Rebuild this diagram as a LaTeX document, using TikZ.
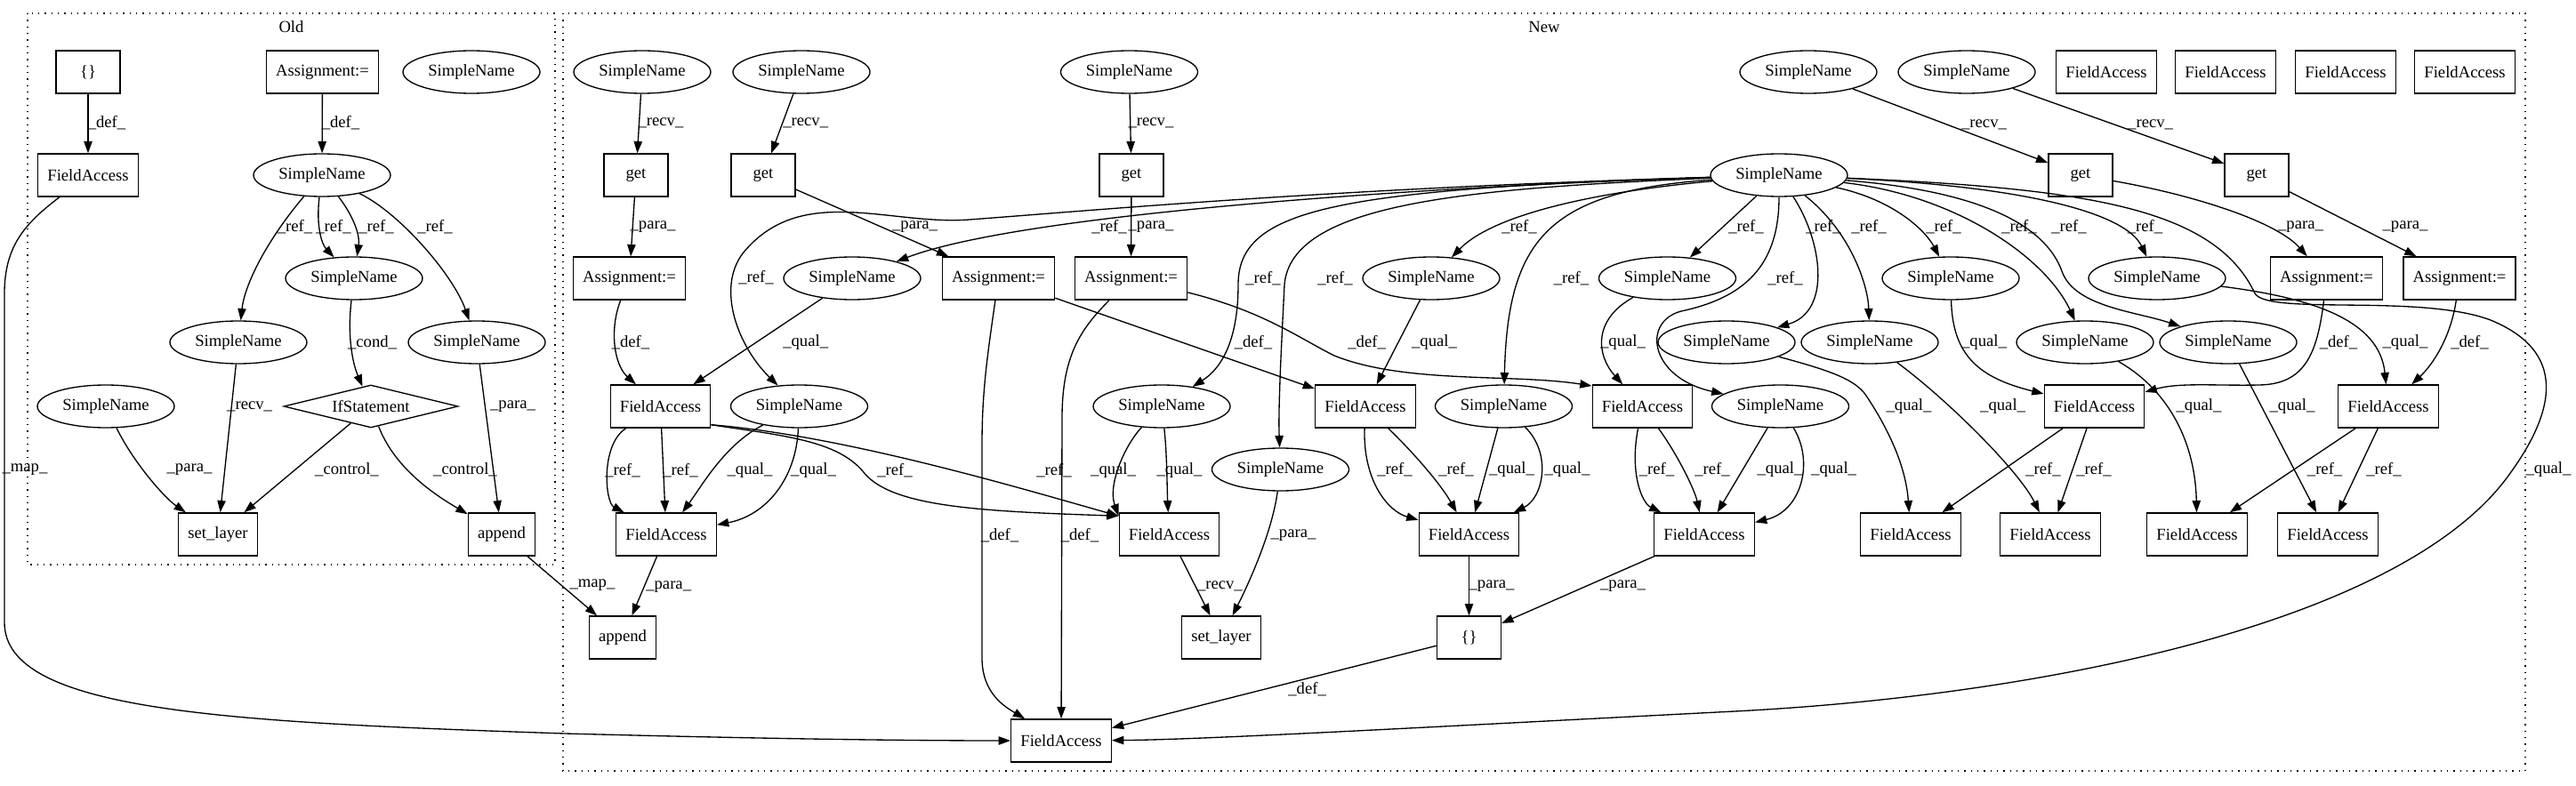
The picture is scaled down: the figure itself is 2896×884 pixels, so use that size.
\documentclass[tikz,border=0pt]{standalone}
\usepackage{fontspec}
\setmainfont{Liberation Serif}
\usetikzlibrary{shapes.geometric,arrows.meta}
\begin{document}
\begin{tikzpicture}[x=0.75pt,y=-0.75pt,
 every node/.style={font=\fontsize{14pt}{16pt}\selectfont},
 bx/.style={draw,rectangle,line width=1pt,minimum height=36pt,minimum width=54pt,inner xsep=8pt,inner ysep=0pt},
 ell/.style={draw,ellipse,line width=1pt,minimum width=115.5pt,minimum height=36pt,inner sep=0pt},
 dia/.style={draw,diamond,aspect=4,line width=1pt,minimum width=147pt,minimum height=36pt,inner sep=0pt},
 edg/.style={draw,line width=1pt,-{Triangle[length=10pt,width=7pt]}},
 lbl/.style={inner sep=0pt},
 clu/.style={draw,line width=1pt,dash pattern=on 1pt off 4.5pt}]
\useasboundingbox[fill=white] (0,0) rectangle (2896,884);
% clusters
\draw[clu] (31,15) rectangle (624,635);
\draw[clu] (633,15) rectangle (2839,867);
\node (oldlbl) at (327.5,30) {Old};
\node (newlbl) at (1736,30) {New};
% Old nodes
\node[bx] (oB) at (99,81) {\{\}};
\node[bx] (oA) at (362.5,81) {Assignment:=};
\node[ell] (oSi) at (530,81) {SimpleName};
\node[bx] (oFA) at (99,197) {FieldAccess};
\node[ell] (oS1) at (362,197) {SimpleName};
\node[ell] (oS2) at (398,313) {SimpleName};
\node[ell] (oS3) at (268,385) {SimpleName};
\node[ell] (oS4) at (536,385) {SimpleName};
\node[ell] (oS5) at (119,457) {SimpleName};
\node[dia] (oIf) at (417,457) {IfStatement};
\node[bx] (oSL) at (245,601) {set\_layer};
\node[bx] (oAp) at (564,601) {append};
% New nodes
\node[ell] (nSa) at (722,81) {SimpleName};
\node[ell] (nSb) at (901,81) {SimpleName};
\node[ell] (nSc) at (1269.5,81) {SimpleName};
\node[ell] (nSq) at (2033,81) {SimpleName};
\node[ell] (nSr) at (2211,81) {SimpleName};
\node[bx] (fX1) at (2368,81) {FieldAccess};
\node[bx] (fX2) at (2502,81) {FieldAccess};
\node[bx] (fX3) at (2637,81) {FieldAccess};
\node[bx] (fX4) at (2771,81) {FieldAccess};
\node[bx] (gA) at (715,197) {get};
\node[bx] (gB) at (858,197) {get};
\node[bx] (gC) at (1272,197) {get};
\node[ell] (hub) at (2000,197) {SimpleName};
\node[bx] (gD) at (2339,197) {get};
\node[bx] (gE) at (2537,197) {get};
\node[bx] (aA) at (707.5,313) {Assignment:=};
\node[ell] (nSd) at (958,313) {SimpleName};
\node[bx] (aB) at (1122.5,313) {Assignment:=};
\node[bx] (aC) at (1271.5,313) {Assignment:=};
\node[ell] (nSg) at (1609,313) {SimpleName};
\node[ell] (nSh) at (1874.5,313) {SimpleName};
\node[ell] (nSl) at (2193,313) {SimpleName};
\node[ell] (nSm) at (2425,313) {SimpleName};
\node[bx] (aD) at (2615.5,313) {Assignment:=};
\node[bx] (aE) at (2765,313) {Assignment:=};
\node[ell] (nSi) at (1941,385) {SimpleName};
\node[ell] (nSn) at (2102,385) {SimpleName};
\node[ell] (nSo) at (2344,385) {SimpleName};
\node[ell] (nSp) at (2505,385) {SimpleName};
\node[bx] (fA) at (742.5,457) {FieldAccess};
\node[ell] (nSe) at (898.5,457) {SimpleName};
\node[ell] (nSf) at (1306,457) {SimpleName};
\node[bx] (fD) at (1535,457) {FieldAccess};
\node[ell] (nSj) at (1690.5,457) {SimpleName};
\node[bx] (fE) at (1846.5,457) {FieldAccess};
\node[ell] (nSk) at (2001.5,457) {SimpleName};
\node[bx] (fF) at (2354.5,457) {FieldAccess};
\node[bx] (fG) at (2685,457) {FieldAccess};
\node[ell] (nSs) at (1439.5,528) {SimpleName};
\node[bx] (fB) at (749,601) {FieldAccess};
\node[bx] (fC) at (1314.5,601) {FieldAccess};
\node[bx] (fH) at (1651.5,601) {FieldAccess};
\node[bx] (fI) at (1916,601) {FieldAccess};
\node[bx] (fB1) at (2148,601) {FieldAccess};
\node[bx] (fB2) at (2305,601) {FieldAccess};
\node[bx] (fB3) at (2470,601) {FieldAccess};
\node[bx] (fB4) at (2617,601) {FieldAccess};
\node[bx] (nAp) at (700,717) {append};
\node[bx] (nSL) at (1373,717) {set\_layer};
\node[bx] (nBr) at (1651.5,717) {\{\}};
\node[bx] (fT) at (1193,833) {FieldAccess};
% Old edges
\draw[edg] (oB) -- (oFA);
\draw[edg] (oA) -- (oS1);
\draw[edg] (oS1) .. controls (300,270) and (275,320) .. (oS3);
\draw[edg] (oS1) .. controls (355,255) and (362,275) .. (oS2);
\draw[edg] (oS1) .. controls (395,240) and (405,262) .. (oS2);
\draw[edg] (oS1) .. controls (450,240) and (510,310) .. (oS4);
\draw[edg] (oS2) .. controls (390,380) and (397,410) .. (oIf);
\draw[edg] (oS3) -- (oSL);
\draw[edg] (oS5) .. controls (150,520) and (185,560) .. (oSL);
\draw[edg] (oIf) -- (oSL);
\draw[edg] (oIf) .. controls (445,530) and (495,560) .. (oAp);
\draw[edg] (oS4) -- (oAp);
\draw[edg] (oAp) -- (nAp);
\draw[edg] (oFA) .. controls (30,250) and (5,275) .. (5,330) -- (5,700) .. controls (5,800) and (250,812) .. (635,825) .. controls (900,832) and (1050,833) .. (fT);
% New edges
\draw[edg] (nSa) -- (gA);
\draw[edg] (gA) -- (aA);
\draw[edg] (nSb) -- (gB);
\draw[edg] (gB) -- (aB);
\draw[edg] (nSc) -- (gC);
\draw[edg] (gC) -- (aC);
\draw[edg] (aA) .. controls (685,370) and (690,410) .. (fA);
\draw[edg] (nSd) -- (fA);
\draw[edg] (hub) .. controls (1600,210) and (1150,240) .. (nSd);
\draw[edg] (hub) .. controls (1500,212) and (1250,235) .. (1090,247) .. controls (1000,254) and (900,205) .. (835,285) .. controls (805,325) and (830,390) .. (nSe);
\draw[edg] (fA) .. controls (675,500) and (680,565) .. (fB);
\draw[edg] (fA) -- (fB);
\draw[edg] (nSe) .. controls (815,500) and (790,545) .. (fB);
\draw[edg] (nSe) .. controls (895,540) and (860,580) .. (fB);
\draw[edg] (fA.-20) .. controls (880,490) and (940,495) .. (970,530) .. controls (1000,570) and (1100,575) .. (fC.160);
\draw[edg] (fA.-20) .. controls (950,490) and (1150,550) .. (fC.160);
\draw[edg] (aB) .. controls (1110,400) and (1104,440) .. (1104,500) -- (1104,740) .. controls (1104,780) and (1130,795) .. (fT);
\draw[edg] (aC) .. controls (1215,370) and (1194,400) .. (1194,470) -- (fT);
\draw[edg] (aB) -- (fD);
\draw[edg] (aC) .. controls (1420,350) and (1460,380) .. (1500,400) .. controls (1580,432) and (1700,420) .. (fE.158);
\draw[edg] (nSg) -- (fD);
\draw[edg] (nSh) .. controls (1790,360) and (1795,400) .. (fE);
\draw[edg] (hub) .. controls (1800,215) and (1680,240) .. (nSg);
\draw[edg] (hub) .. controls (1740,215) and (1695,270) .. (nSj);
\draw[edg] (hub) -- (nSh);
\draw[edg] (hub) .. controls (2000,300) and (1960,335) .. (1890,350) .. controls (1845,362) and (1855,425) .. (nSk);
\draw[edg] (hub) .. controls (2048,270) and (2060,350) .. (nSi);
\draw[edg] (hub) .. controls (2080,260) and (2100,320) .. (nSn);
\draw[edg] (hub) .. controls (2130,225) and (2165,260) .. (nSl);
\draw[edg] (hub) .. controls (2200,220) and (2300,290) .. (nSo);
\draw[edg] (hub) .. controls (2230,215) and (2300,255) .. (2318,305) .. controls (2332,345) and (2400,350) .. (nSp);
\draw[edg] (hub) .. controls (2280,210) and (2390,240) .. (nSm);
\draw[edg] (hub) .. controls (2350,212) and (2490,235) .. (2535,330) .. controls (2550,355) and (2720,330) .. (2800,360) .. controls (2885,395) and (2875,460) .. (2820,535) .. controls (2700,700) and (2300,782) .. (1950,800) .. controls (1600,818) and (1350,832) .. (fT);
\draw[edg] (hub) .. controls (1500,213) and (1392,235) .. (1392,320) .. controls (1392,385) and (1372,415) .. (nSf);
\draw[edg] (hub) .. controls (1650,212) and (1452,228) .. (1444,320) .. controls (1440,400) and (1437,460) .. (nSs);
\draw[edg] (nSf) .. controls (1265,500) and (1245,545) .. (fC.160);
\draw[edg] (nSf) .. controls (1312,510) and (1312,550) .. (fC);
\draw[edg] (fD) .. controls (1532,540) and (1560,575) .. (fH);
\draw[edg] (fD) .. controls (1590,510) and (1620,545) .. (fH);
\draw[edg] (nSj) -- (fH);
\draw[edg] (nSj) .. controls (1745,510) and (1735,560) .. (fH);
\draw[edg] (fE) .. controls (1832,530) and (1845,565) .. (fI);
\draw[edg] (fE) .. controls (1885,510) and (1905,550) .. (fI);
\draw[edg] (nSk) -- (fI);
\draw[edg] (nSk) .. controls (2040,520) and (2025,575) .. (fI);
\draw[edg] (nSs) .. controls (1430,600) and (1402,660) .. (nSL);
\draw[edg] (fC) -- (nSL);
\draw[edg] (fB) -- (nAp);
\draw[edg] (fH) -- (nBr);
\draw[edg] (fI) -- (nBr);
\draw[edg] (nBr) -- (fT);
\draw[edg] (nSq) -- (gD);
\draw[edg] (nSr) -- (gE);
\draw[edg] (gD) .. controls (2470,220) and (2560,250) .. (aD);
\draw[edg] (gE) -- (aE);
\draw[edg] (aD) .. controls (2605,400) and (2590,432) .. (2540,433) .. controls (2490,434) and (2450,430) .. (fF);
\draw[edg] (aE) .. controls (2755,380) and (2735,410) .. (fG);
\draw[edg] (nSm) .. controls (2600,335) and (2675,360) .. (fG);
\draw[edg] (nSl) .. controls (2195,400) and (2225,425) .. (fF);
\draw[edg] (nSi) .. controls (2050,415) and (2085,425) .. (2098,445) .. controls (2128,490) and (2143,530) .. (fB1);
\draw[edg] (nSn) .. controls (2190,450) and (2270,530) .. (fB2);
\draw[edg] (nSo) .. controls (2440,440) and (2468,500) .. (fB3);
\draw[edg] (nSp) -- (fB4);
\draw[edg] (fF) -- (fB1);
\draw[edg] (fF) -- (fB2);
\draw[edg] (fG) -- (fB3);
\draw[edg] (fG) -- (fB4);
% labels
\node[lbl] (L1) at (120,138) {\_def\_};
\node[lbl] (L2) at (383,138) {\_def\_};
\node[lbl] (L3) at (331.6,255) {\_ref\_};
\node[lbl] (L4) at (375,255) {\_ref\_};
\node[lbl] (L5) at (423,255) {\_ref\_};
\node[lbl] (L6) at (489,255) {\_ref\_};
\node[lbl] (L7) at (418.6,385) {\_cond\_};
\node[lbl] (L8) at (280.6,457) {\_recv\_};
\node[lbl] (L9) at (576.5,457) {\_para\_};
\node[lbl] (L10) at (213,528) {\_para\_};
\node[lbl] (L11) at (390,528) {\_control\_};
\node[lbl] (L12) at (523,528) {\_control\_};
\node[lbl] (L13) at (666,658) {\_map\_};
\node[lbl] (L14) at (28,528) {\_map\_};
\node[lbl] (L15) at (743,138) {\_recv\_};
\node[lbl] (L16) at (905.7,138) {\_recv\_};
\node[lbl] (L17) at (1294,138) {\_recv\_};
\node[lbl] (L18) at (734,255) {\_para\_};
\node[lbl] (L19) at (1028.5,255) {\_para\_};
\node[lbl] (L20) at (1294,255) {\_para\_};
\node[lbl] (L21) at (1247,255) {\_ref\_};
\node[lbl] (L22) at (850,312) {\_ref\_};
\node[lbl] (L23) at (709,385) {\_def\_};
\node[lbl] (L24) at (905.7,385) {\_qual\_};
\node[lbl] (L25) at (700,529) {\_ref\_};
\node[lbl] (L26) at (765,529) {\_ref\_};
\node[lbl] (L27) at (843,529) {\_qual\_};
\node[lbl] (L28) at (914.6,529) {\_qual\_};
\node[lbl] (L29) at (1006,529) {\_ref\_};
\node[lbl] (L30) at (1185,529) {\_ref\_};
\node[lbl] (L31) at (1251.6,529) {\_qual\_};
\node[lbl] (L32) at (1326,529) {\_qual\_};
\node[lbl] (L33) at (1124,602) {\_def\_};
\node[lbl] (L34) at (1214,602) {\_def\_};
\node[lbl] (L35) at (751.7,660) {\_para\_};
\node[lbl] (L36) at (1420,313) {\_ref\_};
\node[lbl] (L37) at (1501,313) {\_ref\_};
\node[lbl] (L38) at (1708,255) {\_ref\_};
\node[lbl] (L39) at (1409,385) {\_def\_};
\node[lbl] (L40) at (1536.6,385) {\_def\_};
\node[lbl] (L41) at (1612.5,385) {\_qual\_};
\node[lbl] (L42) at (1824.5,385) {\_qual\_};
\node[lbl] (L43) at (1766.5,313) {\_ref\_};
\node[lbl] (L44) at (1568,528) {\_ref\_};
\node[lbl] (L45) at (1637,528) {\_ref\_};
\node[lbl] (L46) at (1699.5,528) {\_qual\_};
\node[lbl] (L47) at (1762,528) {\_qual\_};
\node[lbl] (L48) at (1862.5,528) {\_ref\_};
\node[lbl] (L49) at (1925,528) {\_ref\_};
\node[lbl] (L50) at (2001,528) {\_qual\_};
\node[lbl] (L51) at (2061.6,528) {\_qual\_};
\node[lbl] (L52) at (1454,602) {\_para\_};
\node[lbl] (L53) at (1371.4,659) {\_recv\_};
\node[lbl] (L54) at (1677,659) {\_para\_};
\node[lbl] (L55) at (1824.5,659) {\_para\_};
\node[lbl] (L56) at (1469.6,775) {\_def\_};
\node[lbl] (L57) at (1963,255) {\_ref\_};
\node[lbl] (L58) at (2050,255) {\_ref\_};
\node[lbl] (L59) at (2101,255) {\_ref\_};
\node[lbl] (L60) at (2185,255) {\_ref\_};
\node[lbl] (L61) at (2270,255) {\_ref\_};
\node[lbl] (L62) at (2326,255) {\_ref\_};
\node[lbl] (L63) at (2411.5,255) {\_ref\_};
\node[lbl] (L64) at (2007,313) {\_ref\_};
\node[lbl] (L65) at (2230.5,140) {\_recv\_};
\node[lbl] (L66) at (2417.6,140) {\_recv\_};
\node[lbl] (L67) at (2586.5,255) {\_para\_};
\node[lbl] (L68) at (2704,255) {\_para\_};
\node[lbl] (L69) at (2230.5,385) {\_qual\_};
\node[lbl] (L70) at (2629,385) {\_def\_};
\node[lbl] (L71) at (2704,385) {\_qual\_};
\node[lbl] (L72) at (2776.5,385) {\_def\_};
\node[lbl] (L73) at (2146,457) {\_qual\_};
\node[lbl] (L74) at (2251.6,457) {\_qual\_};
\node[lbl] (L75) at (2472,457) {\_qual\_};
\node[lbl] (L76) at (2577,457) {\_qual\_};
\node[lbl] (L77) at (2297,528) {\_ref\_};
\node[lbl] (L78) at (2354,528) {\_ref\_};
\node[lbl] (L79) at (2613.6,528) {\_ref\_};
\node[lbl] (L80) at (2680,528) {\_ref\_};
\node[lbl] (L81) at (2865,528) {\_qual\_};
\end{tikzpicture}
\end{document}
